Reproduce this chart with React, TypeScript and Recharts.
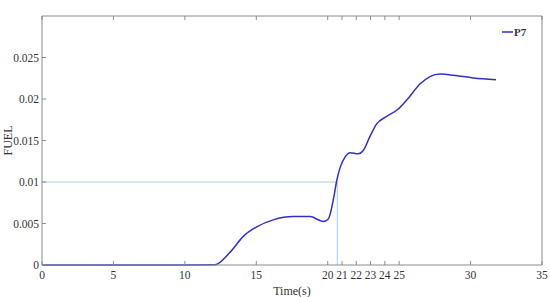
import React from 'react';
import { LineChart, Line, XAxis, YAxis, ReferenceLine, Legend } from 'recharts';

// values
const timeS = [0, 5, 10, 12.1, 13.16, 14.09, 15.03, 16.19, 17.6, 18.76, 19.69, 20.04, 20.39, 20.63, 20.86, 21.21, 21.56, 22.14, 22.49, 22.96, 23.43, 24.13, 24.94, 25.64, 26.46, 27.16, 27.86, 28.79, 30.19, 31.78];
const fuelP7 = [0, 0, 0, 0.00002, 0.00153, 0.00345, 0.0046, 0.00544, 0.00583, 0.00583, 0.00525, 0.00555, 0.00785, 0.01015, 0.0117, 0.013, 0.01353, 0.0134, 0.0138, 0.0155, 0.017, 0.0179, 0.0188, 0.0201, 0.0218, 0.0227, 0.023, 0.02287, 0.02253, 0.02233];

const xTicks = [0, 5, 10, 15, 20, 21, 22, 23, 24, 25, 30, 35];
const yTicks = [0, 0.005, 0.01, 0.015, 0.02, 0.025];
const markerTime = 20.67;
const markerFuel = 0.01;

const data = timeS.map((t, i) => ({ t, fuel: fuelP7[i] }));

const FONT = '"Liberation Serif", "Times New Roman", serif';
const AXIS = '#8c8c8c';
const TEXT = '#333';
const TICK_LEN = 4;
const textStyle = { fontFamily: FONT, fontSize: 11.5 };

const BottomTick = (props: any) => {
  const { x, y, payload } = props;
  return (
    <g>
      <line x1={x} y1={y} x2={x} y2={y - TICK_LEN} stroke={AXIS} />
      <text x={x} y={y + 14} textAnchor="middle" style={textStyle} fontFamily={FONT} fill={TEXT}>
        {payload.value}
      </text>
    </g>
  );
};

const TopTick = (props: any) => {
  const { x, y } = props;
  return <line x1={x} y1={y} x2={x} y2={y + TICK_LEN} stroke={AXIS} />;
};

const LeftTick = (props: any) => {
  const { x, y, payload } = props;
  return (
    <g>
      <line x1={x} y1={y} x2={x + TICK_LEN} y2={y} stroke={AXIS} />
      <text x={x - 3} y={y + 4} textAnchor="end" style={textStyle} fontFamily={FONT} fill={TEXT}>
        {payload.value}
      </text>
    </g>
  );
};

const RightTick = (props: any) => {
  const { x, y } = props;
  return <line x1={x} y1={y} x2={x - TICK_LEN} y2={y} stroke={AXIS} />;
};

const YLabel = (props: any) => {
  const { viewBox } = props;
  const cy = viewBox.y + viewBox.height / 2;
  return (
    <text x={12} y={cy} transform={`rotate(-90, 12, ${cy})`} textAnchor="middle" style={{ fontFamily: FONT, fontSize: 12 }} fill={TEXT}>
      FUEL
    </text>
  );
};

const LegendBox = () => (
  <div style={{ display: 'flex', alignItems: 'center', fontFamily: FONT, fontSize: 11, fontWeight: 'bold', color: TEXT }}>
    <svg width={11} height={10}>
      <line x1={0} y1={5} x2={11} y2={5} stroke="#3030c8" strokeWidth={1.5} />
    </svg>
    <span style={{ marginLeft: 1 }}>P7</span>
  </div>
);

export default function App() {
  return (
    <div style={{ position: 'absolute', left: 0, top: 0, background: '#fff' }}>
      <LineChart width={550} height={297} data={data} margin={{ top: 3, right: 7, left: 0, bottom: 0 }}>
        <XAxis
          dataKey="t"
          type="number"
          domain={[0, 35]}
          ticks={xTicks}
          interval={0}
          height={32}
          tickSize={0}
          tickMargin={0}
          stroke={AXIS}
          tick={<BottomTick />}
          label={{ value: 'Time(s)', position: 'insideBottom', offset: 2, fontSize: 12, fontFamily: FONT, fill: TEXT }}
        />
        <XAxis
          xAxisId="top"
          orientation="top"
          dataKey="t"
          type="number"
          domain={[0, 35]}
          ticks={xTicks}
          interval={0}
          height={1}
          tickSize={0}
          tickMargin={0}
          stroke={AXIS}
          tick={<TopTick />}
        />
        <YAxis
          type="number"
          domain={[0, 0.03]}
          ticks={yTicks}
          interval={0}
          width={42}
          tickSize={0}
          tickMargin={0}
          stroke={AXIS}
          tick={<LeftTick />}
          label={<YLabel />}
        />
        <YAxis
          yAxisId="right"
          orientation="right"
          type="number"
          domain={[0, 0.03]}
          ticks={yTicks}
          interval={0}
          width={1}
          tickSize={0}
          tickMargin={0}
          stroke={AXIS}
          tick={<RightTick />}
        />
        <ReferenceLine
          segment={[{ x: 0, y: markerFuel }, { x: markerTime, y: markerFuel }]}
          stroke="#a9c9ee"
          strokeWidth={1}
        />
        <ReferenceLine
          segment={[{ x: markerTime, y: 0 }, { x: markerTime, y: markerFuel }]}
          stroke="#a9c9ee"
          strokeWidth={1}
        />
        <Legend
          verticalAlign="top"
          align="right"
          content={<LegendBox />}
          wrapperStyle={{ position: 'absolute', top: 26, left: 502, width: 40 }}
        />
        <Line
          type="monotone"
          dataKey="fuel"
          name="P7"
          stroke="#3030c8"
          strokeWidth={1.5}
          dot={false}
          isAnimationActive={false}
        />
      </LineChart>
    </div>
  );
}
